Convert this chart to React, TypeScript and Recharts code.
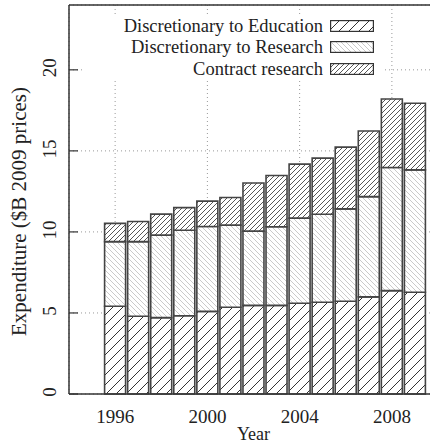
import { Bar, BarChart, CartesianGrid, Legend, XAxis, YAxis } from "recharts"

// expenditure, $B at 2009 prices
const years = [1996, 1997, 1998, 1999, 2000, 2001, 2002, 2003, 2004, 2005, 2006, 2007, 2008, 2009]
const education = [5.41, 4.8, 4.71, 4.83, 5.1, 5.35, 5.47, 5.47, 5.6, 5.66, 5.72, 5.99, 6.38, 6.28]
const research = [3.99, 4.6, 5.09, 5.27, 5.23, 5.07, 4.58, 4.85, 5.25, 5.43, 5.7, 6.19, 7.59, 7.55]
const contract = [1.13, 1.24, 1.3, 1.4, 1.57, 1.7, 2.97, 3.16, 3.33, 3.46, 3.81, 4.05, 4.23, 4.11]

const seriesNames = ["Discretionary to Education", "Discretionary to Research", "Contract research"]
const xTicks = [1996, 2000, 2004, 2008]
const yTicks = [0, 5, 10, 15, 20]
const innerTicks = [5, 10, 15, 20]

const data = years.map((year, i) => ({
  year,
  education: education[i],
  research: research[i],
  contract: contract[i],
}))

const FONT = '"Liberation Serif", "Times New Roman", serif'
const INK = "#222"
const FRAME = "#333"
const fills = ["url(#hatchEdu)", "url(#hatchRes)", "url(#hatchCon)"]

function XTick({ x, y, payload }: any) {
  return (
    <text x={x} y={y + 29} textAnchor="middle" fill={INK} fontSize={19} fontFamily={FONT}>
      {payload.value}
    </text>
  )
}

function YTick({ x, y, payload }: any) {
  return (
    <g transform={`translate(${x},${y - 2}) rotate(-90)`}>
      <text x={0} y={0} textAnchor="middle" fill={INK} fontSize={19} fontFamily={FONT}>
        {payload.value}
      </text>
    </g>
  )
}

function YTitle(props: any) {
  const vb = props.viewBox ?? { x: 0, y: 6, width: 69, height: 388 }
  const cx = vb.x + 26
  const cy = vb.y + vb.height / 2 + 12
  return (
    <text
      x={cx}
      y={cy}
      transform={`rotate(-90, ${cx}, ${cy})`}
      textAnchor="middle"
      fill={INK}
      fontSize={21}
      fontFamily={FONT}
    >
      Expenditure ($B 2009 prices)
    </text>
  )
}

function XTitle(props: any) {
  const vb = props.viewBox ?? { x: 69, y: 394, width: 369, height: 51 }
  return (
    <text x={vb.x + vb.width / 2} y={vb.y + 46} textAnchor="middle" fill={INK} fontSize={18} fontFamily={FONT}>
      Year
    </text>
  )
}

function Key() {
  return (
    <div
      style={{
        background: "#fff",
        width: 300,
        boxSizing: "border-box",
        fontFamily: FONT,
        fontSize: 18.5,
        color: INK,
      }}
    >
      {seriesNames.map((name, i) => (
        <div
          key={name}
          style={{
            display: "flex",
            justifyContent: "flex-end",
            alignItems: "center",
            height: 21.5,
            paddingRight: 8,
          }}
        >
          <span style={{ marginRight: 7, lineHeight: 1, whiteSpace: "nowrap" }}>{name}</span>
          <svg width={44} height={12} style={{ display: "block" }}>
            <rect x={0.6} y={0.6} width={42.8} height={10.8} fill={fills[i]} stroke={FRAME} strokeWidth={1.2} />
          </svg>
        </div>
      ))}
    </div>
  )
}

export default function App() {
  return (
    <div
      style={{
        position: "absolute",
        left: 0,
        top: 0,
        width: 430,
        height: 445,
        overflow: "hidden",
        background: "#fff",
        fontFamily: FONT,
      }}
    >
      <BarChart width={439} height={445} data={data} margin={{ top: 5, right: 0, bottom: 0, left: 0 }}>
        <defs>
          <pattern id="hatchEdu" patternUnits="userSpaceOnUse" width={10} height={10}>
            <rect width={10} height={10} fill="#fff" />
            <path d="M-1,1 l2,-2 M0,10 l10,-10 M9,11 l2,-2" stroke="#333" strokeWidth={1} />
          </pattern>
          <pattern id="hatchRes" patternUnits="userSpaceOnUse" width={5} height={5}>
            <rect width={5} height={5} fill="#fff" />
            <path d="M-1,4 l2,2 M0,0 l5,5 M4,-1 l2,2" stroke="#c4c4c4" strokeWidth={0.9} />
          </pattern>
          <pattern id="hatchCon" patternUnits="userSpaceOnUse" width={5} height={5}>
            <rect width={5} height={5} fill="#fff" />
            <path d="M-1,1 l2,-2 M0,5 l5,-5 M4,6 l2,-2" stroke="#444" strokeWidth={0.9} />
          </pattern>
        </defs>
        <CartesianGrid stroke="#999" strokeDasharray="1 3" />
        <XAxis
          dataKey="year"
          type="number"
          domain={[1994, 2010]}
          ticks={xTicks}
          interval={0}
          height={51}
          tickLine={false}
          tickSize={0}
          tickMargin={0}
          axisLine={{ stroke: FRAME, strokeWidth: 1.5 }}
          tick={<XTick />}
          label={<XTitle />}
        />
        <XAxis
          xAxisId="top"
          orientation="top"
          type="number"
          domain={[1994, 2010]}
          ticks={xTicks}
          interval={0}
          height={1}
          mirror
          tickSize={9}
          tick={false}
          tickLine={{ stroke: FRAME, strokeWidth: 1.2 }}
          axisLine={{ stroke: FRAME, strokeWidth: 1.5 }}
        />
        <YAxis
          type="number"
          domain={[0, 24]}
          ticks={yTicks}
          interval={0}
          width={69}
          tickSize={-9}
          tickMargin={22}
          tickLine={{ stroke: FRAME, strokeWidth: 1.2 }}
          axisLine={{ stroke: FRAME, strokeWidth: 1.5 }}
          tick={<YTick />}
          label={<YTitle />}
        />
        <YAxis
          yAxisId="right"
          orientation="right"
          type="number"
          domain={[0, 24]}
          ticks={innerTicks}
          interval={0}
          width={1}
          tickSize={-9}
          tick={false}
          tickLine={{ stroke: FRAME, strokeWidth: 1.2 }}
          axisLine={{ stroke: FRAME, strokeWidth: 1.5 }}
        />
        <Legend
          layout="vertical"
          align="center"
          verticalAlign="middle"
          wrapperStyle={{ top: 15, left: 82, width: 300, height: 64 }}
          content={<Key />}
        />
        <Bar dataKey="education" name={seriesNames[0]} stackId="a" barSize={21} fill={fills[0]} stroke="#444" strokeWidth={1.6} isAnimationActive={false} />
        <Bar dataKey="research" name={seriesNames[1]} stackId="a" barSize={21} fill={fills[1]} stroke="#444" strokeWidth={1.6} isAnimationActive={false} />
        <Bar dataKey="contract" name={seriesNames[2]} stackId="a" barSize={21} fill={fills[2]} stroke="#444" strokeWidth={1.6} isAnimationActive={false} />
      </BarChart>
    </div>
  )
}
